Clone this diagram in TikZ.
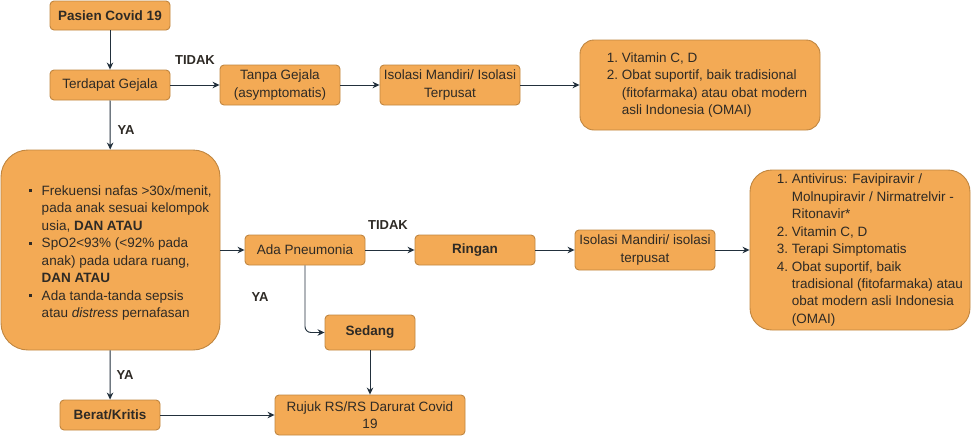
\documentclass[tikz,border=0pt]{standalone}
\usepackage{fontspec}
\setmainfont{Liberation Sans}
\usetikzlibrary{arrows.meta}
\definecolor{boxfill}{HTML}{F3AA55}
\definecolor{boxline}{HTML}{C08640}
\definecolor{txt}{HTML}{2E2A25}
\definecolor{arr}{HTML}{22303C}
\newcommand{\itm}[1]{\makebox[15pt][l]{#1}}
\newcommand{\cnt}{\hspace*{15pt}}
\newcommand{\bul}{\makebox[13pt][l]{\raisebox{3pt}{\rule{3.2pt}{3.2pt}}}}
\newcommand{\bcnt}{\hspace*{13pt}}
\tikzset{
 box/.style={draw=boxline, fill=boxfill, line width=0.9pt, rounded corners=4pt, text=txt, align=center, inner sep=0pt, font=\fontsize{13.5}{17.5}\selectfont},
 lbl/.style={font=\bfseries\fontsize{13}{15}\selectfont, text=txt, inner sep=0pt},
 arrow/.style={draw=arr, line width=0.9pt, -{Stealth[length=7pt,width=6.5pt]}},
 listtxt/.style={anchor=west, inner sep=0pt, align=left, text=txt, font=\fontsize{13.5}{17.5}\selectfont},
}
\begin{document}
\begin{tikzpicture}[x=1pt,y=-1pt]
\useasboundingbox (0,0) rectangle (972,437);
\fill[white] (0,0) rectangle (972,437);

% boxes
\node[box, minimum width=120, minimum height=29] (pasien) at (110,15.5) {\textbf{Pasien Covid 19}};
\node[box, minimum width=120, minimum height=30] (gejala) at (110,85) {Terdapat Gejala};
\node[box, minimum width=120, minimum height=40] (tanpa) at (280,85) {Tanpa Gejala\\(asymptomatis)};
\node[box, minimum width=140, minimum height=40] (iso1) at (450,85) {Isolasi Mandiri/ Isolasi\\Terpusat};
\node[box, rounded corners=14pt, minimum width=240, minimum height=90] (vit) at (700,85) {};
\node[listtxt] (vitt) at ([xshift=27pt]vit.west) {\itm{1.}Vitamin C, D\\ \itm{2.}Obat suportif, baik tradisional\\ \cnt(fitofarmaka) atau obat modern\\ \cnt asli Indonesia (OMAI)};

\node[box, rounded corners=27pt, minimum width=219, minimum height=200] (crit) at (110.5,250) {};
\node[listtxt] (critt) at ([xshift=28pt,yshift=-3pt]crit.west) {\bul Frekuensi nafas >30x/menit,\\ \bcnt pada anak sesuai kelompok\\ \bcnt usia, \textbf{DAN ATAU}\\ \bul SpO2<93\% (<92\% pada\\ \bcnt anak) pada udara ruang,\\ \bcnt\textbf{DAN ATAU}\\ \bul Ada tanda-tanda sepsis\\ \bcnt atau \textit{distress} pernafasan};

\node[box, minimum width=120, minimum height=30] (pneu) at (305,250) {Ada Pneumonia};
\node[box, minimum width=120, minimum height=30] (ringan) at (475,250) {\textbf{Ringan}};
\node[box, minimum width=140, minimum height=40] (iso2) at (645,250) {Isolasi Mandiri/ isolasi\\terpusat};
\node[box, rounded corners=22pt, minimum width=220, minimum height=160] (terapi) at (860,250) {};
\node[listtxt] (terapit) at ([xshift=27pt]terapi.west) {\itm{1.}Antivirus: Favipiravir /\\ \cnt Molnupiravir / Nirmatrelvir -\\ \cnt Ritonavir*\\ \itm{2.}Vitamin C, D\\ \itm{3.}Terapi Simptomatis\\ \itm{4.}Obat suportif, baik\\ \cnt tradisional (fitofarmaka) atau\\ \cnt obat modern asli Indonesia\\ \cnt(OMAI)};

\node[box, minimum width=90, minimum height=35] (sedang) at (370,332.5) {\textbf{Sedang}};
\node[box, minimum width=100, minimum height=30] (berat) at (110,415) {\textbf{Berat/Kritis}};
\node[box, minimum width=190, minimum height=40] (rujuk) at (370,415) {Rujuk RS/RS Darurat Covid\\19};

% labels
\node[lbl] (l1) at (195,60.5) {TIDAK};
\node[lbl] (l2) at (126,130.5) {YA};
\node[lbl] (l3) at (388,225.5) {TIDAK};
\node[lbl] (l4) at (260,297.5) {YA};
\node[lbl] (l5) at (125,375.5) {YA};

% arrows
\draw[arrow] (pasien) -- (gejala);
\draw[arrow] (gejala) -- (tanpa);
\draw[arrow] (tanpa) -- (iso1);
\draw[arrow] (iso1) -- (vit);
\draw[arrow] (gejala) -- (crit);
\draw[arrow] (crit) -- (pneu);
\draw[arrow] (pneu) -- (ringan);
\draw[arrow] (ringan) -- (iso2);
\draw[arrow] (iso2) -- (terapi);
\draw[arrow, rounded corners=6pt] (pneu.south) |- (sedang.west);
\draw[arrow] (sedang) -- (rujuk);
\draw[arrow] (crit) -- (berat);
\draw[arrow] (berat) -- (rujuk);
\end{tikzpicture}
\end{document}
